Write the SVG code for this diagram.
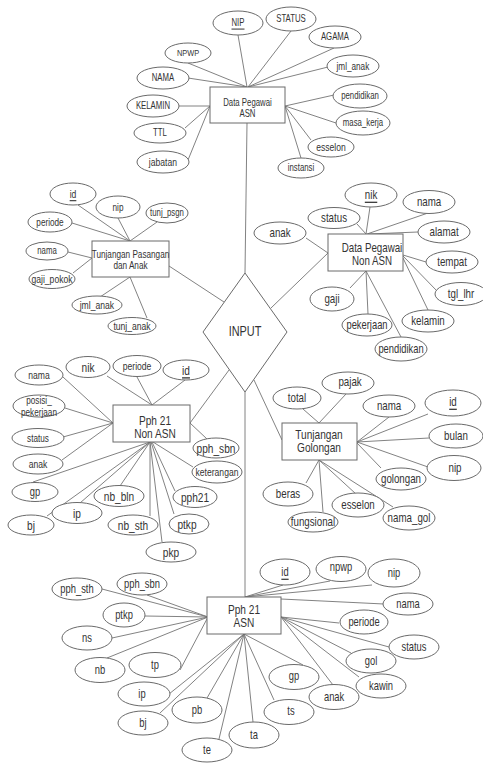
<svg xmlns="http://www.w3.org/2000/svg" width="483" height="763" viewBox="0 0 483 763">
<style>
ellipse, rect, polygon { fill:#fff; stroke:#6a6a6a; stroke-width:1; }
#connectors line { stroke:#747474; stroke-width:0.9; }
text { font-family:"Liberation Sans", Arial, sans-serif; fill:#333; text-anchor:middle; dominant-baseline:central; transform-box:fill-box; transform-origin:center; transform:scaleX(0.78); }
text.bx { dominant-baseline:auto; }
.u { text-decoration:underline; }
.f95 { font-size:9.5px; } .f10 { font-size:10px; } .f105 { font-size:10.5px; } .f11 { font-size:11px; }
.f12 { font-size:12px; } .f125 { font-size:12.5px; } .f13 { font-size:13px; } .f14 { font-size:14px; }
</style>
<rect x="0" y="0" width="483" height="763" style="fill:#fff;stroke:none"/>
<g id="connectors">
<!-- main -->
<line x1="247" y1="123" x2="245" y2="273"/>
<line x1="169" y1="266" x2="224" y2="302"/>
<line x1="328" y1="253" x2="271" y2="308"/>
<line x1="190" y1="423" x2="229" y2="370"/>
<line x1="282" y1="440" x2="254" y2="380"/>
<line x1="245" y1="392" x2="245" y2="597"/>
<!-- Data Pegawai ASN -->
<line x1="238" y1="35" x2="247" y2="87"/>
<line x1="291" y1="31" x2="248" y2="87"/>
<line x1="334" y1="48" x2="248" y2="87"/>
<line x1="328" y1="67" x2="248" y2="87"/>
<line x1="188" y1="63" x2="247" y2="87"/>
<line x1="188" y1="78" x2="247" y2="87"/>
<line x1="179" y1="106" x2="210" y2="106"/>
<line x1="185" y1="128" x2="210" y2="106"/>
<line x1="188" y1="160" x2="210" y2="106"/>
<line x1="334" y1="95" x2="285" y2="106"/>
<line x1="336" y1="123" x2="285" y2="106"/>
<line x1="311" y1="140" x2="285" y2="106"/>
<line x1="301" y1="158" x2="285" y2="106"/>
<!-- Tunjangan Pasangan -->
<line x1="78" y1="205" x2="130" y2="241"/>
<line x1="118" y1="218" x2="130" y2="241"/>
<line x1="157" y1="222" x2="130" y2="241"/>
<line x1="72" y1="223" x2="130" y2="241"/>
<line x1="68" y1="252" x2="92" y2="258"/>
<line x1="73" y1="273" x2="92" y2="258"/>
<line x1="100" y1="297" x2="130" y2="277"/>
<line x1="147" y1="318" x2="130" y2="277"/>
<!-- Data Pegawai Non ASN -->
<line x1="370" y1="207" x2="366" y2="234"/>
<line x1="428" y1="213" x2="367" y2="234"/>
<line x1="357" y1="224" x2="366" y2="234"/>
<line x1="418" y1="232" x2="368" y2="234"/>
<line x1="306" y1="238" x2="328" y2="253"/>
<line x1="426" y1="262" x2="403" y2="255"/>
<line x1="437" y1="291" x2="403" y2="256"/>
<line x1="428" y1="310" x2="403" y2="258"/>
<line x1="350" y1="288" x2="366" y2="271"/>
<line x1="368" y1="314" x2="366" y2="271"/>
<line x1="401" y1="337" x2="366" y2="271"/>
<!-- Pph 21 Non ASN -->
<line x1="63" y1="377" x2="113" y2="423"/>
<line x1="107" y1="376" x2="152" y2="405"/>
<line x1="137" y1="377" x2="152" y2="405"/>
<line x1="185" y1="380" x2="152" y2="405"/>
<line x1="65" y1="408" x2="113" y2="423"/>
<line x1="63" y1="437" x2="113" y2="423"/>
<line x1="62" y1="460" x2="113" y2="423"/>
<line x1="33" y1="482" x2="150" y2="442"/>
<line x1="47" y1="516" x2="150" y2="442"/>
<line x1="80" y1="503" x2="150" y2="442"/>
<line x1="120" y1="486" x2="150" y2="442"/>
<line x1="150" y1="516" x2="150" y2="442"/>
<line x1="162" y1="542" x2="150" y2="442"/>
<line x1="174" y1="514" x2="151" y2="442"/>
<line x1="175" y1="491" x2="152" y2="442"/>
<line x1="193" y1="467" x2="153" y2="442"/>
<line x1="207" y1="439" x2="190" y2="423"/>
<!-- Tunjangan Golongan -->
<line x1="303" y1="409" x2="319" y2="423"/>
<line x1="346" y1="394" x2="319" y2="423"/>
<line x1="389" y1="417" x2="357" y2="442"/>
<line x1="428" y1="414" x2="357" y2="442"/>
<line x1="429" y1="438" x2="357" y2="442"/>
<line x1="428" y1="467" x2="357" y2="442"/>
<line x1="381" y1="468" x2="357" y2="443"/>
<line x1="393" y1="507" x2="319" y2="460"/>
<line x1="356" y1="494" x2="319" y2="460"/>
<line x1="323" y1="512" x2="319" y2="460"/>
<line x1="306" y1="483" x2="319" y2="460"/>
<!-- Pph 21 ASN -->
<line x1="102" y1="589" x2="208" y2="617"/>
<line x1="147" y1="595" x2="208" y2="617"/>
<line x1="145" y1="616" x2="208" y2="617"/>
<line x1="112" y1="638" x2="208" y2="617"/>
<line x1="107" y1="658" x2="208" y2="617"/>
<line x1="180" y1="670" x2="208" y2="617"/>
<line x1="169" y1="694" x2="244" y2="634"/>
<line x1="160" y1="713" x2="244" y2="634"/>
<line x1="207" y1="698" x2="244" y2="634"/>
<line x1="219" y1="739" x2="244" y2="634"/>
<line x1="253" y1="722" x2="244" y2="634"/>
<line x1="274" y1="700" x2="244" y2="634"/>
<line x1="303" y1="665" x2="244" y2="634"/>
<line x1="333" y1="685" x2="281" y2="617"/>
<line x1="359" y1="677" x2="281" y2="617"/>
<line x1="351" y1="653" x2="281" y2="617"/>
<line x1="389" y1="647" x2="281" y2="617"/>
<line x1="339" y1="623" x2="281" y2="617"/>
<line x1="384" y1="604" x2="281" y2="599"/>
<line x1="283" y1="585" x2="245" y2="597"/>
<line x1="330" y1="581" x2="245" y2="597"/>
<line x1="372" y1="585" x2="245" y2="597"/>
</g>

<!-- Entities -->
<g id="data-pegawai-asn"><rect x="210" y="87" width="75" height="36"/><text class="bx f10" x="247.5" y="106"><tspan x="247.5">Data Pegawai</tspan><tspan x="247.5" y="117">ASN</tspan></text></g>
<g id="tunjangan-pasangan"><rect x="92" y="241" width="77" height="36"/><text class="bx f105" x="130.5" y="258"><tspan x="130.5">Tunjangan Pasangan</tspan><tspan x="130.5" y="269">dan Anak</tspan></text></g>
<g id="data-pegawai-non-asn"><rect x="328" y="234" width="75" height="37"/><text class="bx f125" x="372" y="252"><tspan x="372">Data Pegawai</tspan><tspan x="372" y="265">Non ASN</tspan></text></g>
<g id="input"><polygon points="245,273 287,332 245,392 203,332"/><text class="f14" x="245" y="332">INPUT</text></g>
<g id="pph21-non-asn"><rect x="113" y="405" width="77" height="37"/><text class="bx f13" x="155" y="425"><tspan x="155">Pph 21</tspan><tspan x="155" y="438">Non ASN</tspan></text></g>
<g id="tunjangan-golongan"><rect x="282" y="423" width="75" height="37"/><text class="bx f13" x="319" y="439"><tspan x="319">Tunjangan</tspan><tspan x="319" y="452">Golongan</tspan></text></g>
<g id="pph21-asn"><rect x="207" y="597" width="74" height="37"/><text class="bx f13" x="244" y="614"><tspan x="244">Pph 21</tspan><tspan x="244" y="627">ASN</tspan></text></g>

<!-- Data Pegawai ASN attributes -->
<g id="asn-nip"><ellipse cx="238" cy="23" rx="25" ry="12"/><text class="f10 u" x="238" y="23">NIP</text></g>
<g id="asn-status"><ellipse cx="291" cy="19" rx="25" ry="12"/><text class="f10" x="291" y="19">STATUS</text></g>
<g id="asn-agama"><ellipse cx="335" cy="37" rx="26" ry="11"/><text class="f10" x="335" y="37">AGAMA</text></g>
<g id="asn-jml-anak"><ellipse cx="353" cy="66" rx="26" ry="11"/><text class="f105" x="353" y="66">jml_anak</text></g>
<g id="asn-npwp"><ellipse cx="188" cy="53" rx="23" ry="10"/><text class="f95" x="188" y="53">NPWP</text></g>
<g id="asn-nama"><ellipse cx="163" cy="78" rx="26" ry="11"/><text class="f10" x="163" y="78">NAMA</text></g>
<g id="asn-kelamin"><ellipse cx="153" cy="106" rx="26" ry="11"/><text class="f10" x="153" y="106">KELAMIN</text></g>
<g id="asn-ttl"><ellipse cx="160" cy="133" rx="26" ry="10"/><text class="f10" x="160" y="133">TTL</text></g>
<g id="asn-jabatan"><ellipse cx="163" cy="162" rx="26" ry="11"/><text class="f11" x="163" y="162">jabatan</text></g>
<g id="asn-pendidikan"><ellipse cx="360" cy="96" rx="27" ry="12"/><text class="f10" x="360" y="96">pendidikan</text></g>
<g id="asn-masa-kerja"><ellipse cx="363" cy="123" rx="27" ry="12"/><text class="f10" x="363" y="123">masa_kerja</text></g>
<g id="asn-esselon"><ellipse cx="331" cy="147" rx="23" ry="10"/><text class="f11" x="331" y="147">esselon</text></g>
<g id="asn-instansi"><ellipse cx="301" cy="168" rx="23" ry="10"/><text class="f10" x="301" y="168">instansi</text></g>

<!-- Tunjangan Pasangan attributes -->
<g id="tp-id"><ellipse cx="73" cy="194" rx="23" ry="11"/><text class="f11 u" x="73" y="194">id</text></g>
<g id="tp-nip"><ellipse cx="118" cy="207" rx="22" ry="11"/><text class="f105" x="118" y="207">nip</text></g>
<g id="tp-tunj-psgn"><ellipse cx="167" cy="213" rx="21" ry="10"/><text class="f10" x="167" y="213">tunj_psgn</text></g>
<g id="tp-periode"><ellipse cx="50" cy="222" rx="22" ry="10"/><text class="f105" x="50" y="222">periode</text></g>
<g id="tp-nama"><ellipse cx="47" cy="251" rx="21" ry="9"/><text class="f10" x="47" y="251">nama</text></g>
<g id="tp-gaji-pokok"><ellipse cx="52" cy="279" rx="23" ry="9.5"/><text class="f11" x="52" y="279">gaji_pokok</text></g>
<g id="tp-jml-anak"><ellipse cx="97" cy="305" rx="25" ry="9"/><text class="f11" x="97" y="305">jml_anak</text></g>
<g id="tp-tunj-anak"><ellipse cx="132" cy="326" rx="24" ry="8.5"/><text class="f11" x="132" y="326">tunj_anak</text></g>

<!-- Data Pegawai Non ASN attributes -->
<g id="na-nik"><ellipse cx="371" cy="195" rx="26" ry="12"/><text class="f125 u" x="371" y="195">nik</text></g>
<g id="na-nama"><ellipse cx="429" cy="202" rx="26" ry="11.5"/><text class="f125" x="429" y="202">nama</text></g>
<g id="na-status"><ellipse cx="334" cy="218" rx="26" ry="10.5"/><text class="f125" x="334" y="218">status</text></g>
<g id="na-alamat"><ellipse cx="444" cy="232" rx="26" ry="11"/><text class="f125" x="444" y="232">alamat</text></g>
<g id="na-anak"><ellipse cx="280" cy="233" rx="26" ry="11"/><text class="f125" x="280" y="233">anak</text></g>
<g id="na-tempat"><ellipse cx="452" cy="262" rx="26" ry="11"/><text class="f125" x="452" y="262">tempat</text></g>
<g id="na-tgl-lhr"><ellipse cx="461" cy="294" rx="26" ry="11.5"/><text class="f125" x="461" y="294">tgl_lhr</text></g>
<g id="na-kelamin"><ellipse cx="428" cy="321" rx="26" ry="11"/><text class="f125" x="428" y="321">kelamin</text></g>
<g id="na-gaji"><ellipse cx="332" cy="299" rx="22" ry="12"/><text class="f125" x="332" y="299">gaji</text></g>
<g id="na-pekerjaan"><ellipse cx="367" cy="325" rx="25" ry="11"/><text class="f12" x="367" y="325">pekerjaan</text></g>
<g id="na-pendidikan"><ellipse cx="401" cy="349" rx="26" ry="12"/><text class="f12" x="401" y="349">pendidikan</text></g>

<!-- Pph 21 Non ASN attributes -->
<g id="pn-nama"><ellipse cx="39" cy="375" rx="24" ry="10"/><text class="f11" x="39" y="375">nama</text></g>
<g id="pn-nik"><ellipse cx="88" cy="367" rx="22" ry="10.5"/><text class="f13" x="88" y="367">nik</text></g>
<g id="pn-periode"><ellipse cx="137" cy="366" rx="24" ry="10.5"/><text class="f11" x="137" y="366">periode</text></g>
<g id="pn-id"><ellipse cx="186" cy="370" rx="23" ry="10"/><text class="f13 u" x="186" y="370">id</text></g>
<g id="pn-posisi-pekerjaan"><ellipse cx="39" cy="406" rx="26" ry="11"/><text class="f105" x="39" y="400"><tspan x="39">posisi_</tspan><tspan x="39" y="412">pekerjaan</tspan></text></g>
<g id="pn-status"><ellipse cx="38" cy="438" rx="26" ry="9.5"/><text class="f105" x="38" y="438">status</text></g>
<g id="pn-anak"><ellipse cx="38" cy="464" rx="25" ry="10"/><text class="f11" x="38" y="464">anak</text></g>
<g id="pn-gp"><ellipse cx="35" cy="492" rx="23" ry="9.5"/><text class="f12" x="35" y="492">gp</text></g>
<g id="pn-bj"><ellipse cx="31" cy="525" rx="23" ry="10"/><text class="f13" x="31" y="525">bj</text></g>
<g id="pn-ip"><ellipse cx="77" cy="513" rx="25" ry="10.5"/><text class="f13" x="77" y="513">ip</text></g>
<g id="pn-nb-bln"><ellipse cx="119" cy="496" rx="25" ry="10.5"/><text class="f13" x="119" y="496">nb_bln</text></g>
<g id="pn-nb-sth"><ellipse cx="133" cy="525" rx="25" ry="10"/><text class="f13" x="133" y="525">nb_sth</text></g>
<g id="pn-pkp"><ellipse cx="171" cy="552" rx="25" ry="10"/><text class="f13" x="171" y="552">pkp</text></g>
<g id="pn-ptkp"><ellipse cx="189" cy="524" rx="20" ry="10"/><text class="f13" x="187" y="524">ptkp</text></g>
<g id="pn-pph21"><ellipse cx="195" cy="497" rx="22" ry="10.5"/><text class="f13" x="195" y="497">pph21</text></g>
<g id="pn-keterangan"><ellipse cx="217" cy="472" rx="25" ry="11"/><text class="f11" x="217" y="472">keterangan</text></g>
<g id="pn-pph-sbn"><ellipse cx="216" cy="448" rx="23" ry="10"/><text class="f13" x="216" y="448">pph_sbn</text></g>

<!-- Tunjangan Golongan attributes -->
<g id="tg-total"><ellipse cx="297" cy="398" rx="24" ry="11"/><text class="f125" x="297" y="398">total</text></g>
<g id="tg-pajak"><ellipse cx="348" cy="383" rx="26" ry="11"/><text class="f125" x="350" y="382">pajak</text></g>
<g id="tg-nama"><ellipse cx="389" cy="406" rx="26" ry="11"/><text class="f125" x="389" y="406">nama</text></g>
<g id="tg-id"><ellipse cx="453" cy="403" rx="28" ry="13"/><text class="f125 u" x="453" y="402">id</text></g>
<g id="tg-bulan"><ellipse cx="456" cy="436" rx="27" ry="12"/><text class="f125" x="456" y="436">bulan</text></g>
<g id="tg-nip"><ellipse cx="454" cy="468" rx="27" ry="12.5"/><text class="f125" x="455" y="468">nip</text></g>
<g id="tg-golongan"><ellipse cx="401" cy="479" rx="25" ry="11"/><text class="f125" x="401" y="479">golongan</text></g>
<g id="tg-nama-gol"><ellipse cx="409" cy="518" rx="26" ry="12"/><text class="f125" x="409" y="518">nama_gol</text></g>
<g id="tg-esselon"><ellipse cx="358" cy="505" rx="26" ry="12"/><text class="f125" x="358" y="505">esselon</text></g>
<g id="tg-fungsional"><ellipse cx="313" cy="522" rx="25" ry="10"/><text class="f125" x="313" y="522">fungsional</text></g>
<g id="tg-beras"><ellipse cx="288" cy="494" rx="25" ry="12"/><text class="f125" x="288" y="494">beras</text></g>

<!-- Pph 21 ASN attributes -->
<g id="pa-pph-sth"><ellipse cx="77" cy="589" rx="25" ry="11"/><text class="f12" x="77" y="589">pph_sth</text></g>
<g id="pa-pph-sbn"><ellipse cx="142" cy="584" rx="25" ry="11"/><text class="f12" x="142" y="584">pph_sbn</text></g>
<g id="pa-ptkp"><ellipse cx="124" cy="615" rx="21" ry="12"/><text class="f12" x="124" y="615">ptkp</text></g>
<g id="pa-ns"><ellipse cx="87" cy="638" rx="25" ry="12"/><text class="f12" x="87" y="638">ns</text></g>
<g id="pa-nb"><ellipse cx="100" cy="670" rx="25" ry="12.5"/><text class="f12" x="100" y="670">nb</text></g>
<g id="pa-tp"><ellipse cx="155" cy="665" rx="26" ry="12.5"/><text class="f12" x="155" y="665">tp</text></g>
<g id="pa-ip"><ellipse cx="144" cy="694" rx="26" ry="12"/><text class="f12" x="142" y="694">ip</text></g>
<g id="pa-bj"><ellipse cx="143" cy="723" rx="25" ry="12"/><text class="f12" x="143" y="723">bj</text></g>
<g id="pa-pb"><ellipse cx="197" cy="710" rx="25" ry="13"/><text class="f12" x="197" y="710">pb</text></g>
<g id="pa-te"><ellipse cx="207" cy="750" rx="25" ry="12"/><text class="f12" x="207" y="750">te</text></g>
<g id="pa-ta"><ellipse cx="254" cy="735" rx="25" ry="13"/><text class="f12" x="254" y="735">ta</text></g>
<g id="pa-ts"><ellipse cx="289" cy="712" rx="25" ry="12.5"/><text class="f12" x="291" y="711">ts</text></g>
<g id="pa-gp"><ellipse cx="294" cy="677" rx="25" ry="12.5"/><text class="f12" x="294" y="676">gp</text></g>
<g id="pa-anak"><ellipse cx="334" cy="697" rx="25" ry="12.5"/><text class="f12" x="334" y="697">anak</text></g>
<g id="pa-kawin"><ellipse cx="381" cy="686" rx="25" ry="12"/><text class="f12" x="381" y="686">kawin</text></g>
<g id="pa-gol"><ellipse cx="371" cy="661" rx="25" ry="12"/><text class="f12" x="371" y="661">gol</text></g>
<g id="pa-status"><ellipse cx="414" cy="647" rx="25" ry="12"/><text class="f12" x="414" y="647">status</text></g>
<g id="pa-periode"><ellipse cx="364" cy="622" rx="24" ry="12"/><text class="f12" x="364" y="622">periode</text></g>
<g id="pa-nama"><ellipse cx="408" cy="604" rx="25" ry="11"/><text class="f12" x="408" y="604">nama</text></g>
<g id="pa-id"><ellipse cx="285" cy="572" rx="25" ry="13"/><text class="f12 u" x="285" y="572">id</text></g>
<g id="pa-npwp"><ellipse cx="341" cy="569" rx="25" ry="12.5"/><text class="f12" x="341" y="567">npwp</text></g>
<g id="pa-nip"><ellipse cx="394" cy="573" rx="26" ry="14"/><text class="f12" x="394" y="573">nip</text></g>
</svg>
